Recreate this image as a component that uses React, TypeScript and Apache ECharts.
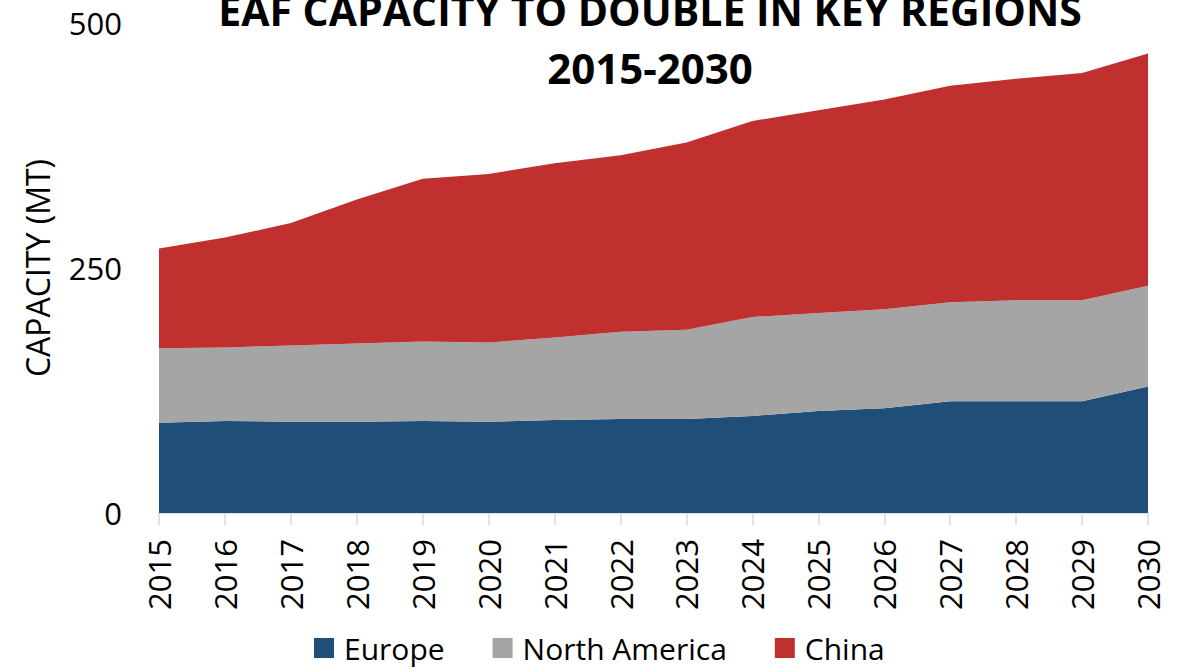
import React, { useEffect, useRef } from "react";
import * as echarts from "echarts";

const years = ["2015","2016","2017","2018","2019","2020","2021","2022","2023","2024","2025","2026","2027","2028","2029","2030"];
const europe = [92, 94, 93, 93, 94, 93, 95, 96, 96, 99, 104, 107, 114, 114, 114, 129];
const northAmerica = [76, 75, 78, 80, 81, 81, 84, 89, 91, 101, 100, 101, 101, 103, 103, 103];
const china = [102, 112, 125, 147, 166, 172, 178, 180, 191, 200, 207, 214, 221, 226, 232, 237];
const yTicks = { min: 0, max: 500, interval: 250 };
const titleLine1 = "EAF CAPACITY TO DOUBLE IN KEY REGIONS";
const titleLine2 = "2015-2030";

const FONT = "'Open Sans', 'Noto Sans', sans-serif";

export default function App() {
  const ref = useRef<HTMLDivElement>(null);
  useEffect(() => {
    if (!ref.current) return;
    const chart = echarts.init(ref.current, undefined, { renderer: "svg" });
    const mk = (name: string, data: number[], color: string) => ({
      name,
      type: "line",
      stack: "total",
      data,
      symbol: "none",
      lineStyle: { width: 0 },
      areaStyle: { color, opacity: 1 },
      itemStyle: { color },
    });
    chart.setOption({
      animation: false,
      textStyle: { fontFamily: FONT },
      grid: { left: 159, right: 36, top: 23, bottom: 157 },
      graphic: [
        {
          type: "text",
          x: 650,
          y: 10,
          style: {
            text: titleLine1,
            font: `bold 41px ${FONT}`,
            fill: "#000",
            textAlign: "center",
            textVerticalAlign: "middle",
          },
        },
        {
          type: "text",
          x: 650,
          y: 67,
          style: {
            text: titleLine2,
            font: `bold 42px ${FONT}`,
            fill: "#000",
            textAlign: "center",
            textVerticalAlign: "middle",
          },
        },
      ],
      legend: {
        left: 309,
        top: 628,
        itemWidth: 20,
        itemHeight: 20,
        itemGap: 48,
        icon: "rect",
        textStyle: { fontSize: 30, color: "#000", fontFamily: FONT, padding: [0, 0, 0, 5] },
        data: ["Europe", "North America", "China"],
      },
      xAxis: {
        type: "category",
        data: years,
        boundaryGap: false,
        axisLine: { lineStyle: { color: "#D9D9D9", width: 1.5 } },
        axisTick: { show: true, length: 12, lineStyle: { color: "#D9D9D9", width: 1.5 } },
        axisLabel: { rotate: 90, margin: 26, fontSize: 31, color: "#000", fontFamily: FONT },
      },
      yAxis: {
        type: "value",
        min: yTicks.min,
        max: yTicks.max,
        interval: yTicks.interval,
        name: "CAPACITY (MT)",
        nameLocation: "middle",
        nameGap: 106,
        nameRotate: 90,
        nameTextStyle: { fontSize: 32, color: "#000", fontFamily: FONT },
        axisLine: { show: false },
        axisTick: { show: false },
        splitLine: { show: false },
        axisLabel: { margin: 37, fontSize: 31, color: "#000", fontFamily: FONT },
      },
      series: [
        mk("Europe", europe, "#1F4E79"),
        mk("North America", northAmerica, "#A5A5A5"),
        mk("China", china, "#C0302F"),
      ],
    });
    return () => chart.dispose();
  }, []);
  return (
    <div
      ref={ref}
      style={{ position: "absolute", left: 0, top: 0, width: 1184, height: 670 }}
    />
  );
}
